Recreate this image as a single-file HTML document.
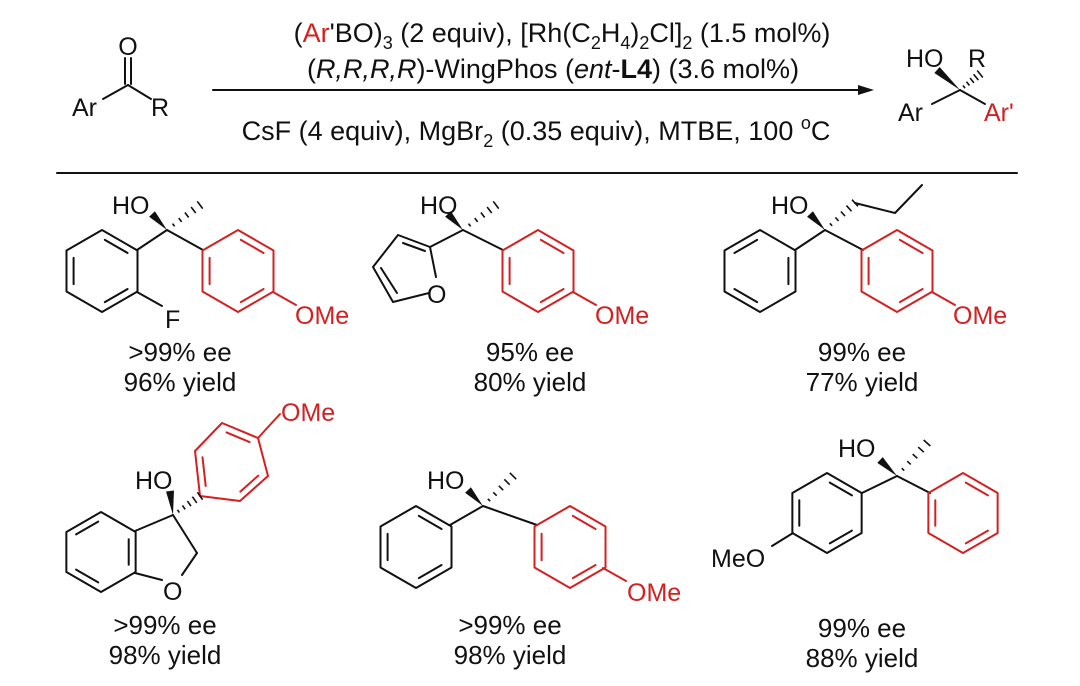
<!DOCTYPE html>
<html><head><meta charset="utf-8"><style>
html,body{margin:0;padding:0;background:#fff;}
svg{display:block;}
text{font-family:"Liberation Sans",sans-serif;font-size:25px;fill:#111;}
.c{font-size:27px;}
.y{font-size:26px;}
.r{fill:#d42020;}
.s{font-size:18px;}
</style></head><body>
<svg id="s" width="1080" height="686" viewBox="0 0 1080 686" xmlns="http://www.w3.org/2000/svg">
<g id="g" stroke="#111" stroke-width="2" fill="none" stroke-linecap="round" stroke-linejoin="round">
<line x1="128" y1="85" x2="103" y2="99"/><line x1="128" y1="85" x2="151" y2="99"/>
<line x1="125" y1="84" x2="125" y2="58"/><line x1="131" y1="84" x2="131" y2="58"/>
<line x1="213" y1="90" x2="862" y2="90"/>
<polygon points="874,90 858,85 858,95" fill="#111" stroke="none"/>
<line x1="57" y1="173" x2="1017" y2="173"/>
<line x1="960" y1="90" x2="932" y2="104"/><line x1="960" y1="90" x2="985" y2="104"/>
<line x1="463" y1="230" x2="430" y2="247"/><line x1="463" y1="230" x2="503" y2="250"/>
<polyline points="430,247 436,277"/><polyline points="429,293 393,302 373,267 398,235 430,247"/>
<line x1="381" y1="268" x2="397" y2="293"/><line x1="403" y1="243" x2="425" y2="251"/>
<line x1="167" y1="230" x2="137" y2="250"/><line x1="167" y1="230" x2="203" y2="250"/>
<line x1="137" y1="292" x2="162" y2="306"/>
<line x1="825" y1="230" x2="795" y2="250"/><line x1="825" y1="230" x2="863" y2="250"/>
<polyline points="855,203 895,213 922,185"/>
<line x1="173" y1="515" x2="135" y2="531"/><line x1="173" y1="515" x2="197" y2="553"/>
<line x1="197" y1="553" x2="182" y2="575"/><line x1="162" y1="580" x2="135" y2="573"/>
<line x1="483" y1="506" x2="450" y2="525"/><line x1="483" y1="506" x2="537" y2="525"/>
<line x1="897" y1="476" x2="862" y2="493"/><line x1="897" y1="476" x2="930" y2="493"/>
<line x1="793" y1="533" x2="772" y2="546"/>
</g>
<g id="red" stroke="#d42020" stroke-width="2" fill="none" stroke-linecap="round">
<line x1="273" y1="292" x2="296" y2="305"/>
<line x1="573" y1="292" x2="596" y2="305"/>
<line x1="932" y1="292" x2="955" y2="305"/>
<line x1="258" y1="438" x2="280" y2="414"/>
<line x1="603" y1="568" x2="626" y2="581"/>
</g>
<text x="128" y="55" text-anchor="middle">O</text>
<text x="72" y="116">Ar</text><text x="151" y="116">R</text>
<text class="c" x="562" y="42" text-anchor="middle">(<tspan class="r">Ar</tspan>'BO)<tspan class="s" dy="7">3</tspan><tspan dy="-7"> (2 equiv), [Rh(C</tspan><tspan class="s" dy="7">2</tspan><tspan dy="-7">H</tspan><tspan class="s" dy="7">4</tspan><tspan dy="-7">)</tspan><tspan class="s" dy="7">2</tspan><tspan dy="-7">Cl]</tspan><tspan class="s" dy="7">2</tspan><tspan dy="-7"> (1.5 mol%)</tspan></text>
<text class="c" x="553" y="78" text-anchor="middle">(<tspan font-style="italic">R,R,R,R</tspan>)-WingPhos (<tspan font-style="italic">ent</tspan>-<tspan font-weight="bold">L4</tspan>) (3.6 mol%)</text>
<text class="c" x="536" y="140" text-anchor="middle">CsF (4 equiv), MgBr<tspan class="s" dy="7">2</tspan><tspan dy="-7"> (0.35 equiv), MTBE, 100 </tspan><tspan class="s" dy="-11">o</tspan><tspan dy="11">C</tspan></text>
<text x="906" y="67">HO</text><text x="968" y="67">R</text>
<text x="898" y="121">Ar</text><text x="984" y="121" class="r">Ar'</text>

<text x="112" y="214">HO</text><text x="165" y="328">F</text><text x="295" y="324" class="r">OMe</text>
<text x="420" y="214">HO</text><text x="427" y="303">O</text><text x="595" y="324" class="r">OMe</text>
<text x="771" y="214">HO</text><text x="953" y="324" class="r">OMe</text>
<text x="135" y="489">HO</text><text x="163" y="600">O</text><text x="281" y="421" class="r">OMe</text>
<text x="427" y="489">HO</text><text x="627" y="601" class="r">OMe</text>
<text x="838" y="457">HO</text><text x="711" y="567">MeO</text>

<g text-anchor="middle" class="y">
<text class="y" x="180" y="361">&gt;99% ee</text><text class="y" x="180" y="391">96% yield</text>
<text class="y" x="530" y="361">95% ee</text><text class="y" x="530" y="391">80% yield</text>
<text class="y" x="862" y="361">99% ee</text><text class="y" x="862" y="391">77% yield</text>
<text class="y" x="165" y="634">&gt;99% ee</text><text class="y" x="165" y="664">98% yield</text>
<text class="y" x="510" y="634">&gt;99% ee</text><text class="y" x="510" y="664">98% yield</text>
<text class="y" x="862" y="637">99% ee</text><text class="y" x="862" y="667">88% yield</text>
</g>
</svg>
<script>
var NS="http://www.w3.org/2000/svg",S=document.getElementById('s');
function el(n,a){var e=document.createElementNS(NS,n);for(var k in a)e.setAttribute(k,a[k]);S.appendChild(e);return e;}
function ring(P,col,d){
 var cx=0,cy=0;P.forEach(function(p){cx+=p[0]/6;cy+=p[1]/6;});
 el('polygon',{points:P.map(function(p){return p.join(',')}).join(' '),fill:'none',stroke:col,'stroke-width':2,'stroke-linejoin':'round'});
 d.forEach(function(i){var a=P[i],b=P[(i+1)%6];
  var a2=[a[0]+(cx-a[0])*0.2,a[1]+(cy-a[1])*0.2],b2=[b[0]+(cx-b[0])*0.2,b[1]+(cy-b[1])*0.2];
  var dx=b2[0]-a2[0],dy=b2[1]-a2[1];
  el('line',{x1:a2[0]+dx*0.1,y1:a2[1]+dy*0.1,x2:b2[0]-dx*0.1,y2:b2[1]-dy*0.1,stroke:col,'stroke-width':2,'stroke-linecap':'round'});});
}
function hexv(cx,cy,r){var P=[];for(var i=0;i<6;i++){var a=(-90+60*i)*Math.PI/180;P.push([cx+r*Math.cos(a),cy+r*Math.sin(a)]);}return P;}
function wedge(x1,y1,x2,y2){var dx=x2-x1,dy=y2-y1,L=Math.hypot(dx,dy),nx=-dy/L*4,ny=dx/L*4;
 el('polygon',{points:x1+','+y1+' '+(x2+nx)+','+(y2+ny)+' '+(x2-nx)+','+(y2-ny),fill:'#111'});}
function hash(x1,y1,x2,y2){var dx=x2-x1,dy=y2-y1,L=Math.hypot(dx,dy),ux=-dy/L,uy=dx/L;
 for(var i=1;i<=5;i++){var t=i/5,w=1+t*3.5,x=x1+dx*t,y=y1+dy*t;
 el('line',{x1:x-ux*w,y1:y-uy*w,x2:x+ux*w,y2:y+uy*w,stroke:'#111','stroke-width':1.6});}}
var R='#d42020',K='#111';
ring(hexv(102,271,41),K,[0,2,4]);
ring(hexv(238,271,41),R,[0,2,4]);
ring(hexv(538,271,41),R,[0,2,4]);
ring(hexv(760,271,41),K,[1,3,5]);
ring(hexv(897,271,41),R,[0,2,4]);
ring(hexv(101,552,40),K,[1,3,5]);
ring([[200,496],[240,501],[268,476],[258,438],[222,423],[195,451]],R,[1,3,5]);
ring(hexv(416,547,41),K,[0,2,4]);
ring(hexv(570,547,41),R,[0,2,4]);
ring(hexv(827,513,40),K,[0,2,4]);
ring(hexv(963,513,40),R,[0,2,4]);
wedge(960,90,937,70);hash(960,90,980,74);
wedge(167,230,152,214);hash(167,230,200,205);
wedge(463,230,448,214);hash(463,230,496,205);
wedge(825,230,810,214);hash(825,230,855,203);
wedge(173,515,170,491);hash(173,515,200,496);
wedge(483,506,468,490);hash(483,506,513,476);
wedge(897,476,880,460);hash(897,476,927,443);
</script>
</body></html>
